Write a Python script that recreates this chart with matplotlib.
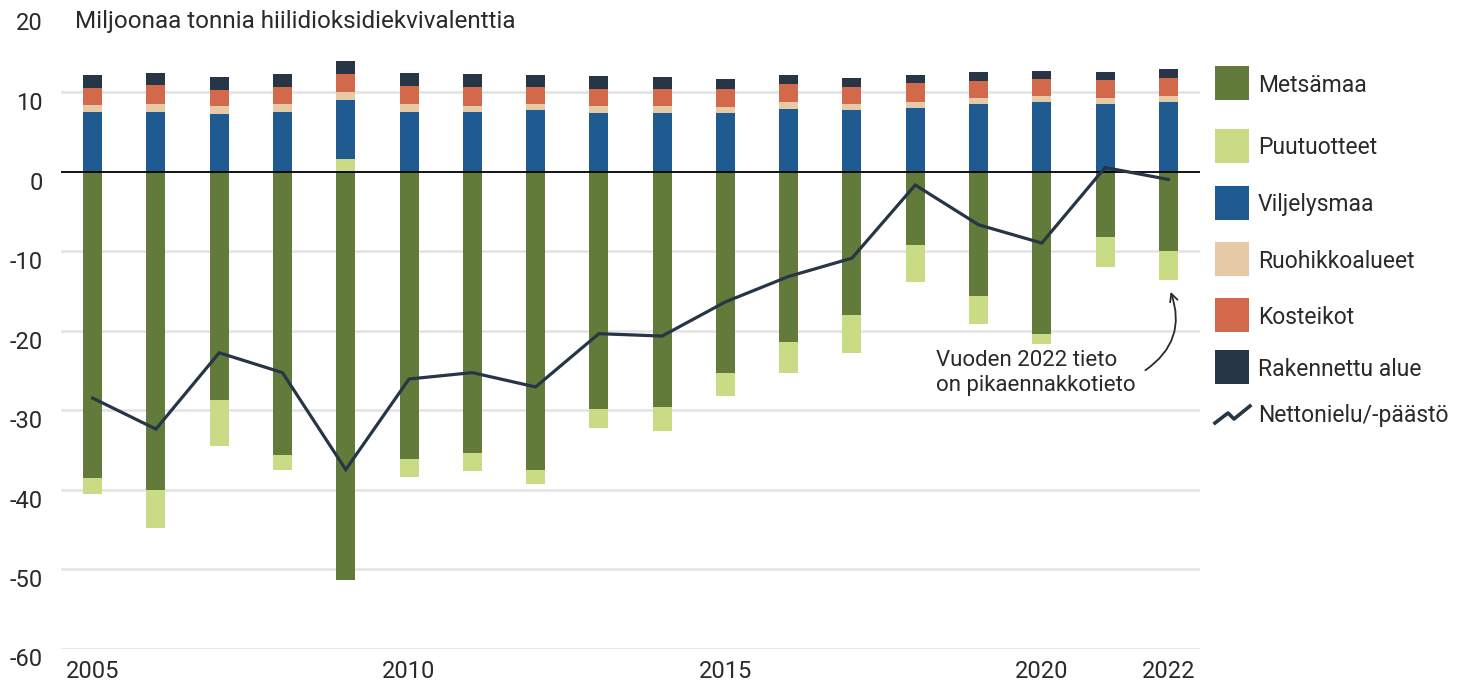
import numpy as np
import matplotlib
matplotlib.use("Agg")
import matplotlib.pyplot as plt
from matplotlib.patches import Rectangle
from matplotlib.lines import Line2D

plt.rcParams['font.family'] = ['Roboto', 'DejaVu Sans']
plt.rcParams['axes.unicode_minus'] = False

# vuodet ja sarjat (milj. t CO2-ekv.)
vuodet = list(range(2005, 2023))
metsamaa = [-38.5, -40.1, -28.8, -35.7, -51.4, -36.2, -35.4, -37.5, -29.9,
            -29.6, -25.4, -21.5, -18.1, -9.2, -15.7, -20.5, -8.3, -10.0]
puutuotteet = [-2.1, -4.7, -5.7, -1.9, 1.6, -2.2, -2.3, -1.8, -2.4,
               -3.0, -2.9, -3.9, -4.7, -4.7, -3.5, -1.2, -3.7, -3.6]
viljelysmaa = [7.45, 7.45, 7.2, 7.45, 7.4, 7.5, 7.45, 7.7, 7.3,
               7.3, 7.3, 7.85, 7.75, 8.05, 8.5, 8.8, 8.5, 8.8]
ruohikko = [0.9, 1.0, 1.0, 1.0, 1.0, 1.0, 0.85, 0.75, 0.9,
            0.95, 0.85, 0.9, 0.75, 0.75, 0.8, 0.75, 0.75, 0.75]
kosteikot = [2.1, 2.4, 2.0, 2.15, 2.3, 2.3, 2.3, 2.15, 2.2,
             2.1, 2.2, 2.2, 2.1, 2.3, 2.1, 2.1, 2.25, 2.2]
rakennettu = [1.7, 1.5, 1.65, 1.7, 1.6, 1.6, 1.7, 1.6, 1.65,
              1.5, 1.3, 1.15, 1.2, 1.1, 1.1, 1.0, 1.0, 1.1]
netto = [-28.5, -32.4, -22.8, -25.3, -37.5, -26.1, -25.3, -27.1, -20.4,
         -20.7, -16.4, -13.2, -10.9, -1.7, -6.7, -9.0, 0.5, -1.0]

nimet = ["Metsämaa", "Puutuotteet", "Viljelysmaa", "Ruohikkoalueet",
         "Kosteikot", "Rakennettu alue"]
sarjat = [metsamaa, puutuotteet, viljelysmaa, ruohikko, kosteikot, rakennettu]
varit = ["#627a3a", "#c9dc85", "#1f5a91", "#e6c9a5", "#d2694a", "#263646"]
viiva_vari = "#263646"
teksti_vari = "#2a2a2a"
x_tikit = [2005, 2010, 2015, 2020, 2022]
y_tikit = list(range(-60, 30, 10))

W, H = 1466, 680
fig = plt.figure(figsize=(W / 100, H / 100), dpi=100)
ax = fig.add_axes([61 / W, 1 - 648.5 / H, (1200 - 61) / W, (648.5 - 12.5) / H])

x = np.array(vuodet)
pos = np.zeros(len(x))
neg = np.zeros(len(x))
for arvot, vari in zip(sarjat, varit):
    a = np.array(arvot)
    pohja = np.where(a >= 0, pos, neg)
    ax.bar(x, a, 0.3, bottom=pohja, color=vari, linewidth=0, zorder=3)
    pos = pos + np.where(a >= 0, a, 0)
    neg = neg + np.where(a < 0, a, 0)

ax.plot(x, netto, color=viiva_vari, lw=2.3, zorder=5, solid_joinstyle='miter')

ax.set_xlim(2004.5, 2022.5)
ax.set_ylim(-60, 20)
for y in y_tikit:
    if y == 0:
        ax.axhline(0, color='black', lw=1.3, zorder=4)
    elif y < 20:
        ax.axhline(y, color='#e3e3e3', lw=1.8, zorder=1)

for s in ax.spines.values():
    s.set_visible(False)
ax.set_xticks(x_tikit)
ax.set_yticks(y_tikit)
ax.tick_params(length=0, labelsize=17, labelcolor=teksti_vari)
ax.tick_params(axis='y', pad=13)
ax.tick_params(axis='x', pad=8)
for lbl in ax.get_yticklabels():
    lbl.set_va('top')

fig.text(75 / W, 1 - 10 / H, "Miljoonaa tonnia hiilidioksidiekvivalenttia",
         fontsize=17.5, color=teksti_vari, va='top', ha='left')

# huomautus 2022
ax.text(2018.33, -22.5, "Vuoden 2022 tieto\non pikaennakkotieto",
        fontsize=16, color=teksti_vari, va='top', ha='left', linespacing=1.2)
ax.annotate("", xy=(2022.02, -14.8), xytext=(2021.6, -25.2),
            arrowprops=dict(arrowstyle='->', connectionstyle='arc3,rad=0.4',
                            color=teksti_vari, lw=1.3, mutation_scale=14))

# selite
rivit = [83, 146, 203, 259, 315, 367]
for yk, nimi, vari in zip(rivit, nimet, varit):
    fig.add_artist(Rectangle((1215 / W, 1 - (yk + 17) / H), 34 / W, 34 / H,
                             transform=fig.transFigure, color=vari, lw=0))
    fig.text(1258 / W, 1 - (yk + 2) / H, nimi, fontsize=16.5, color=teksti_vari,
             va='center', ha='left')
zx = np.array([1215, 1228, 1234, 1250]) / W
zy = 1 - np.array([423, 413, 419, 406]) / H
fig.add_artist(Line2D(zx, zy, transform=fig.transFigure, color=viiva_vari, lw=2.6))
fig.text(1258 / W, 1 - 415 / H, "Nettonielu/-päästö", fontsize=16.5,
         color=teksti_vari, va='center', ha='left')

fig.savefig("out.png", dpi=100)
